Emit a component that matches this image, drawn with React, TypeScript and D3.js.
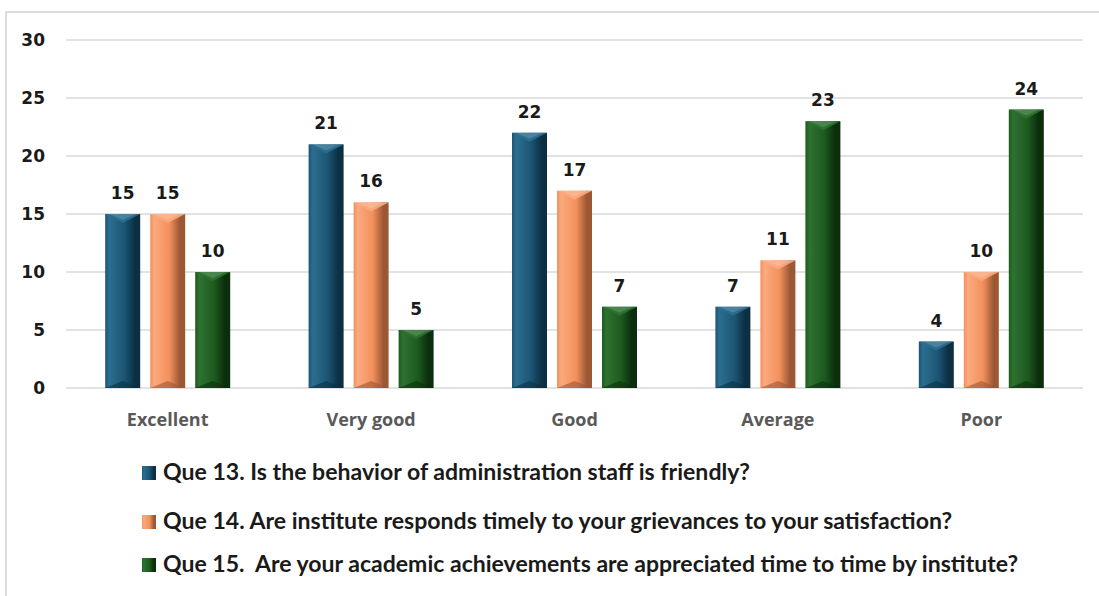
import React from "react";
import * as d3 from "d3";

const categories = ["Excellent", "Very good", "Good", "Average", "Poor"];
const seriesNames = [
  "Que 13. Is the behavior of administration staff is friendly?",
  "Que 14. Are institute responds timely to your grievances to your satisfaction?",
  "Que 15.  Are your academic achievements are appreciated time to time by institute?",
];
const que13 = [15, 21, 22, 7, 4];
const que14 = [15, 16, 17, 11, 10];
const que15 = [10, 5, 7, 23, 24];
const yTicks = [0, 5, 10, 15, 20, 25, 30];

const palette = [
  { base: "#1B5574", light: "#2C6E90", dark: "#0C2F42", id: "g13" },
  { base: "#F2905C", light: "#FBAA7E", dark: "#9C5734", id: "g14" },
  { base: "#1D5A1F", light: "#2E7231", dark: "#0B2E0D", id: "g15" },
];
const legendWidths = [587, 789, 855];

const W = 1099;
const H = 596;
const left = 66;
const right = 1083;
const top = 40;
const bottom = 388;

export default function App() {
  const series = [que13, que14, que15];
  const x0 = d3.scaleBand<string>().domain(categories).range([left, right]).paddingInner(0).paddingOuter(0);
  const y = d3.scaleLinear().domain([0, 30]).range([bottom, top]);
  const barW = 35;
  const gap = 10;
  const groupW = barW * 3 + gap * 2;
  const x1 = (ci: number, si: number) =>
    (x0(categories[ci]) as number) + x0.bandwidth() / 2 - groupW / 2 + si * (barW + gap);

  return (
    <svg
      width={W}
      height={H}
      style={{ position: "absolute", left: 0, top: 0, background: "#fff" }}
    >
      <defs>
        {palette.map((p) => (
          <linearGradient key={p.id} id={p.id} x1="0" x2="1" y1="0" y2="0">
            <stop offset="0" stopColor={p.base} />
            <stop offset="0.12" stopColor={p.light} />
            <stop offset="0.55" stopColor={p.base} />
            <stop offset="0.85" stopColor={p.dark} />
            <stop offset="1" stopColor={p.dark} />
          </linearGradient>
        ))}
      </defs>
      <rect x={6} y={12} width={W + 10} height={H + 10} fill="#fff" stroke="#dcdcdc" strokeWidth={2} />
      {yTicks.map((t) => (
        <g key={t}>
          <line x1={left} x2={right} y1={y(t)} y2={y(t)} stroke="#d9d9d9" strokeWidth={1.5} />
          <text
            x={45}
            y={y(t) + 6}
            textAnchor="end"
            fontFamily="DejaVu Sans"
            fontWeight="bold"
            fontSize={17}
            fill="#1a1a1a"
          >
            {t}
          </text>
        </g>
      ))}
      {series.map((vals, si) =>
        vals.map((v, ci) => {
          const bx = x1(ci, si);
          const by = y(v);
          const bh = y(0) - by;
          const p = palette[si];
          const cx = bx + barW / 2;
          return (
            <g key={`${si}-${ci}`}>
              <rect x={bx} y={by} width={barW} height={bh} fill={`url(#${p.id})`} />
              <polygon
                points={`${bx},${by} ${bx + barW},${by} ${cx},${by + 9}`}
                fill={p.light}
                opacity={0.9}
              />
              <polygon
                points={`${bx + 4},${by} ${bx + barW - 4},${by} ${cx},${by + 6}`}
                fill="#ffffff"
                opacity={0.15}
              />
              <polygon
                points={`${bx},${by + bh} ${bx + barW},${by + bh} ${cx},${by + bh - 7}`}
                fill={p.dark}
                opacity={0.6}
              />
              <text
                x={cx}
                y={by - 15}
                textAnchor="middle"
                fontFamily="DejaVu Sans"
                fontWeight="bold"
                fontSize={17}
                fill="#1a1a1a"
              >
                {v}
              </text>
            </g>
          );
        })
      )}
      {categories.map((c) => (
        <text
          key={c}
          x={(x0(c) as number) + x0.bandwidth() / 2}
          y={426}
          textAnchor="middle"
          fontFamily="Open Sans"
          fontWeight="bold"
          fontSize={18}
          fill="#595959"
        >
          {c}
        </text>
      ))}
      {seriesNames.map((n, i) => {
        const ly = [473, 522, 565][i];
        const p = palette[i];
        return (
          <g key={n}>
            <rect x={142} y={ly - 7} width={14} height={14} fill={`url(#${p.id})`} />
            <text
              x={163}
              y={ly + 7}
              fontFamily="Lato"
              fontWeight="bold"
              fontSize={22}
              fill="#1a1a1a"
              textLength={legendWidths[i]}
              lengthAdjust="spacingAndGlyphs"
              style={{ whiteSpace: "pre" }}
            >
              {n}
            </text>
          </g>
        );
      })}
    </svg>
  );
}
